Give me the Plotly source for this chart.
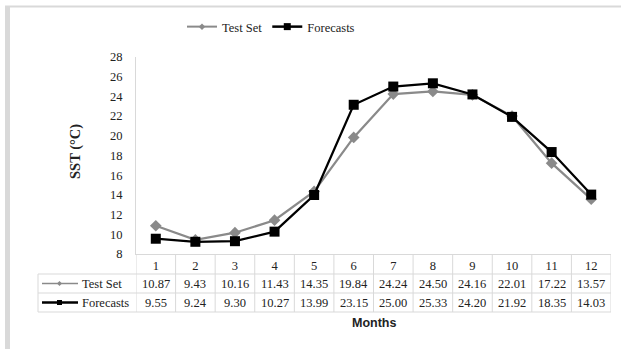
import plotly.graph_objects as go

months = [1, 2, 3, 4, 5, 6, 7, 8, 9, 10, 11, 12]
test_set = [10.87, 9.43, 10.16, 11.43, 14.35, 19.84, 24.24, 24.50, 24.16, 22.01, 17.22, 13.57]
forecasts = [9.55, 9.24, 9.30, 10.27, 13.99, 23.15, 25.00, 25.33, 24.20, 21.92, 18.35, 14.03]
series_names = ["Test Set", "Forecasts"]
y_ticks = [8, 10, 12, 14, 16, 18, 20, 22, 24, 26, 28]

GRAY = "#8a8a8a"
BLACK = "#000000"
BORDER = "#d9d9d9"
SERIF = "Liberation Serif, Times New Roman, serif"

WIDTH, HEIGHT = 621, 349
L, R, T, B = 136, 10, 57, 95
PW = WIDTH - L - R
PH = HEIGHT - T - B


def px(x):
    return (x - L) / PW


def py(y):
    return (HEIGHT - B - y) / PH


fig = go.Figure()
fig.add_trace(go.Scatter(x=months, y=test_set, name=series_names[0], mode="lines+markers", showlegend=False,
                         line=dict(color=GRAY, width=2.25),
                         marker=dict(symbol="diamond", size=9, color=GRAY)))
fig.add_trace(go.Scatter(x=months, y=forecasts, name=series_names[1], mode="lines+markers", showlegend=False,
                         line=dict(color=BLACK, width=2.25),
                         marker=dict(symbol="square", size=10, color=BLACK)))
# legend keys (small markers as in the original)
fig.add_trace(go.Scatter(x=[None], y=[None], name=series_names[0], mode="lines+markers",
                         line=dict(color=GRAY, width=2), marker=dict(symbol="diamond", size=5, color=GRAY)))
fig.add_trace(go.Scatter(x=[None], y=[None], name=series_names[1], mode="lines+markers",
                         line=dict(color=BLACK, width=2.5), marker=dict(symbol="square", size=7, color=BLACK)))

shapes = []
annotations = []

# outer frame (left bar + top line)
shapes.append(dict(type="rect", xref="paper", yref="paper", x0=px(5), x1=px(10), y0=py(349), y1=py(6),
                   line=dict(width=0), fillcolor="#d9d9d9", layer="below"))
shapes.append(dict(type="rect", xref="paper", yref="paper", x0=px(5), x1=px(621), y0=py(7.5), y1=py(5.5),
                   line=dict(width=0), fillcolor="#d9d9d9", layer="below"))

# data table
row_top = HEIGHT - B
hdr_bot = row_top + 20
r1_bot = hdr_bot + 19
r2_bot = r1_bot + 19
line = dict(color=BORDER, width=1)
for i in range(len(months) + 1):
    xv = 0.5 + i
    shapes.append(dict(type="line", xref="x", yref="paper", x0=xv, x1=xv, y0=py(row_top), y1=py(r2_bot), line=line))
for yy in (hdr_bot, r1_bot, r2_bot):
    shapes.append(dict(type="line", xref="paper", yref="paper", x0=px(38), x1=1, y0=py(yy), y1=py(yy), line=line))
shapes.append(dict(type="line", xref="paper", yref="paper", x0=px(38), x1=px(38), y0=py(hdr_bot), y1=py(r2_bot), line=line))

rows = [(test_set, (hdr_bot + r1_bot) / 2, GRAY, "diamond"), (forecasts, (r1_bot + r2_bot) / 2, BLACK, "square")]
for k, (vals, yc, col, sym) in enumerate(rows):
    for m, v in zip(months, vals):
        annotations.append(dict(x=m, y=py(yc), xref="x", yref="paper", text=f"{v:.2f}", showarrow=False,
                                font=dict(family=SERIF, size=12.5, color="#222"), yanchor="middle"))
    annotations.append(dict(x=px(80), y=py(yc), xref="paper", yref="paper", text=series_names[k], showarrow=False,
                            xanchor="left", yanchor="middle", font=dict(family=SERIF, size=12.5, color="#222")))
    shapes.append(dict(type="line", xref="paper", yref="paper", x0=px(42), x1=px(78), y0=py(yc), y1=py(yc),
                       line=dict(color=col, width=1.5 if k == 0 else 2.5)))
    if sym == "square":
        shapes.append(dict(type="rect", xref="paper", yref="paper", x0=px(57), x1=px(62), y0=py(yc + 2.5), y1=py(yc - 2.5),
                           line=dict(width=0), fillcolor=col))
    else:
        shapes.append(dict(type="path", xref="paper", yref="paper",
                           path=f"M {px(57)},{py(yc)} L {px(59.5)},{py(yc-2.5)} L {px(62)},{py(yc)} L {px(59.5)},{py(yc+2.5)} Z",
                           line=dict(width=0), fillcolor=col))

annotations.append(dict(x=0.5, y=py(323), xref="paper", yref="paper", text="<b>Months</b>", showarrow=False,
                        yanchor="middle", font=dict(family="Liberation Sans, Arial, sans-serif", size=12.5, color="#222")))
annotations.append(dict(x=px(75), y=py(152), xref="paper", yref="paper", text="<b>SST (°C)</b>", showarrow=False,
                        textangle=-90, xanchor="center", yanchor="middle",
                        font=dict(family=SERIF, size=14.5, color="#222")))

fig.update_layout(
    width=WIDTH, height=HEIGHT,
    margin=dict(l=L, r=R, t=T, b=B),
    paper_bgcolor="white", plot_bgcolor="white",
    shapes=shapes, annotations=annotations,
    showlegend=True,
    legend=dict(orientation="h", x=px(271), xanchor="center", y=py(27), yanchor="middle",
                font=dict(family=SERIF, size=12.5, color="#222"), itemwidth=30,
                tracegroupgap=0, bgcolor="rgba(0,0,0,0)"),
    xaxis=dict(range=[0.5, 12.5], tickvals=months, ticktext=[str(m) for m in months], showgrid=False,
               zeroline=False, showline=True, linecolor=BORDER, linewidth=1, ticks="",
               tickfont=dict(family=SERIF, size=12.5, color="#222")),
    yaxis=dict(range=[8, 28], tickvals=y_ticks, showgrid=False, zeroline=False, showline=True,
               linecolor=BORDER, linewidth=1, ticks="", ticklabelstandoff=10,
               tickfont=dict(family=SERIF, size=12.5, color="#222")),
)

fig.write_html("out.html", config={"displayModeBar": False},
               post_script="document.body.style.margin='0';document.body.style.overflow='hidden';")
